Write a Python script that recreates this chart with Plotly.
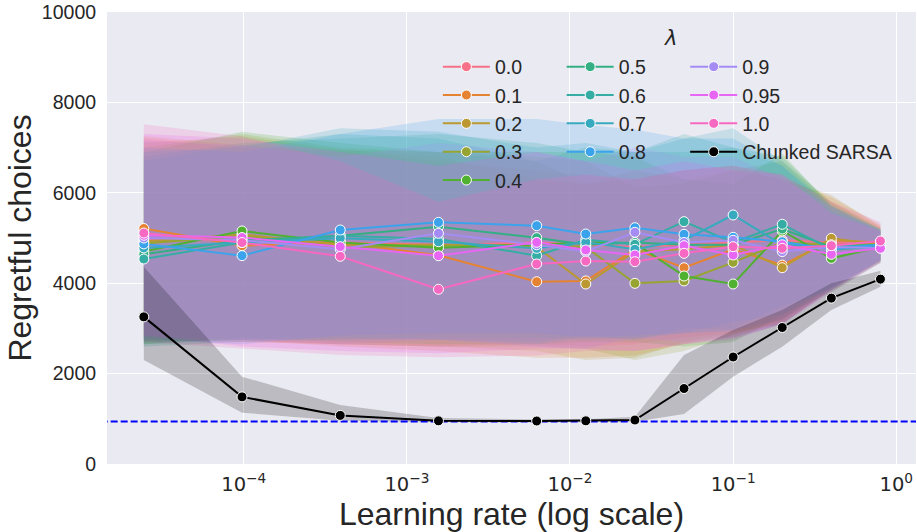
import math
import plotly.graph_objects as go

# ---------------- data ----------------
learning_rates = [0.0000244140625, 0.00009765625, 0.000390625, 0.0015625, 0.00625,
                  0.0125, 0.025, 0.05, 0.1, 0.2, 0.4, 0.8]
lambda_labels = ["0.0", "0.1", "0.2", "0.3", "0.4", "0.5", "0.6", "0.7", "0.8", "0.9", "0.95", "1.0"]

mean_l00 = [4950, 4950, 4900, 4850, 4900, 4850, 4800, 4850, 4900, 4950, 4900, 4850]
lo_l00 = [2750, 2700, 2650, 2600, 2650, 2600, 2650, 2800, 2900, 3200, 3900, 4500]
hi_l00 = [7200, 7000, 6900, 6700, 6500, 6400, 6300, 6500, 6600, 6400, 5800, 5250]

mean_l01 = [5210, 4830, 4900, 4620, 4033, 4050, 4750, 4343, 4750, 4400, 4950, 4900]
lo_l01 = [2800, 2750, 2600, 2500, 2350, 2350, 2400, 2650, 2850, 3150, 3850, 4480]
hi_l01 = [7250, 7050, 6950, 6800, 6300, 6200, 6500, 6300, 6500, 6300, 5900, 5300]

mean_l02 = [4920, 5080, 4850, 4850, 4800, 3982, 4700, 4750, 4850, 4343, 4993, 4850]
lo_l02 = [2750, 2700, 2650, 2600, 2500, 2300, 2350, 2700, 2900, 3100, 3900, 4450]
hi_l02 = [7100, 7250, 6950, 6900, 6700, 6200, 6300, 6500, 6600, 6300, 5950, 5250]

mean_l03 = [4880, 5050, 4800, 4830, 4850, 4800, 3997, 4050, 4462, 4900, 4850, 4850]
lo_l03 = [2700, 2750, 2650, 2600, 2600, 2550, 2300, 2500, 2850, 3200, 3950, 4500]
hi_l03 = [7000, 7300, 7000, 6900, 6800, 6700, 6100, 6200, 6500, 6700, 5800, 5200]

mean_l04 = [4700, 5155, 4900, 4786, 4850, 4900, 4890, 4159, 3982, 5155, 4550, 4800]
lo_l04 = [2650, 2800, 2700, 2650, 2650, 2700, 2700, 2600, 2700, 3300, 3800, 4450]
hi_l04 = [6900, 7350, 7100, 6900, 6900, 6900, 6800, 6300, 6200, 6870, 5700, 5150]

mean_l05 = [4640, 4950, 5050, 5250, 5007, 4850, 4900, 4850, 4850, 5199, 4800, 4850]
lo_l05 = [2650, 2750, 2750, 2800, 2800, 2750, 2800, 2900, 2950, 3400, 3900, 4500]
hi_l05 = [6800, 7100, 7200, 7300, 7100, 6900, 6900, 6900, 7000, 6800, 5750, 5200]

mean_l06 = [4535, 4900, 5050, 4980, 4608, 4960, 4860, 5361, 4900, 5303, 4750, 4800]
lo_l06 = [2600, 2700, 2750, 2750, 2650, 2800, 2750, 3000, 3000, 3500, 3850, 4500]
hi_l06 = [6700, 7050, 7300, 7200, 6700, 7000, 6900, 7300, 7000, 6600, 5700, 5150]

mean_l07 = [4780, 4900, 4993, 4918, 4772, 4904, 4750, 4950, 5509, 4850, 4800, 4850]
lo_l07 = [2700, 2750, 2800, 2750, 2700, 2850, 2750, 2900, 3150, 3300, 3900, 4500]
hi_l07 = [6900, 7000, 7430, 7350, 7000, 7100, 6900, 7200, 7430, 6700, 5700, 5200]

mean_l08 = [4870, 4610, 5177, 5347, 5272, 5088, 5228, 5082, 5015, 4918, 4750, 4850]
lo_l08 = [2750, 2650, 2850, 2900, 2900, 2800, 2850, 2900, 2950, 3200, 3850, 4500]
hi_l08 = [7000, 6900, 7300, 7630, 7630, 7500, 7400, 7200, 7200, 6600, 5600, 5200]

mean_l09 = [5000, 4950, 4750, 5104, 4850, 4700, 5126, 4900, 4950, 4700, 4800, 4780]
lo_l09 = [2800, 2750, 2650, 2750, 2600, 2550, 2800, 2700, 2800, 3100, 3850, 4450]
hi_l09 = [7150, 7050, 6800, 7100, 6900, 6700, 7000, 6800, 6800, 6300, 5700, 5150]

mean_l095 = [5060, 5010, 4808, 4608, 4904, 4735, 4624, 4830, 4624, 4850, 4639, 4772]
lo_l095 = [2850, 2600, 2500, 2450, 2550, 2550, 2500, 2650, 2750, 3100, 3800, 4450]
hi_l095 = [7300, 7200, 6900, 6600, 6900, 6700, 6500, 6700, 6500, 6400, 5550, 5150]

mean_l10 = [5110, 4900, 4595, 3865, 4425, 4491, 4476, 4661, 4808, 4772, 4830, 4934]
lo_l10 = [2700, 2550, 2412, 2360, 2400, 2500, 2500, 2650, 2800, 3100, 3850, 4500]
hi_l10 = [7515, 7250, 6700, 5800, 6300, 6400, 6300, 6500, 6600, 6400, 5800, 5350]

sarsa_label = "Chunked SARSA"
sarsa_mean = [3255, 1485, 1075, 955, 951, 955, 973, 1670, 2367, 3020, 3670, 4090]
sarsa_lo = [2300, 1135, 958, 930, 925, 930, 936, 1106, 1932, 2595, 3407, 3923]
sarsa_hi = [4366, 1932, 1305, 1017, 985, 990, 1047, 2411, 2965, 3407, 3998, 4277]

optimal_regret = 940
y_ticks = [0, 2000, 4000, 6000, 8000, 10000]
x_ticks = [0.0001, 0.001, 0.01, 0.1, 1]
x_tick_labels = ["10<sup>−4</sup>", "10<sup>−3</sup>", "10<sup>−2</sup>", "10<sup>−1</sup>", "10<sup>0</sup>"]

series_means = [mean_l00, mean_l01, mean_l02, mean_l03, mean_l04, mean_l05,
                mean_l06, mean_l07, mean_l08, mean_l09, mean_l095, mean_l10]
series_lo = [lo_l00, lo_l01, lo_l02, lo_l03, lo_l04, lo_l05,
             lo_l06, lo_l07, lo_l08, lo_l09, lo_l095, lo_l10]
series_hi = [hi_l00, hi_l01, hi_l02, hi_l03, hi_l04, hi_l05,
             hi_l06, hi_l07, hi_l08, hi_l09, hi_l095, hi_l10]

# ---------------- husl palette (seaborn) ----------------
M = [[3.2406, -1.5372, -0.4986], [-0.9689, 1.8758, 0.0415], [0.0557, -0.2040, 1.0570]]
REF_Y, REF_U, REF_V, LAB_K, LAB_E = 1.0, 0.19784, 0.46834, 903.3, 0.008856


def _max_chroma(L, H):
    hrad = math.radians(H)
    sinH, cosH = math.sin(hrad), math.cos(hrad)
    sub1 = (L + 16) ** 3 / 1560896.0
    sub2 = sub1 if sub1 > LAB_E else L / LAB_K
    result = float("inf")
    for m1, m2, m3 in M:
        top = (0.99915 * m1 + 1.05122 * m2 + 1.14460 * m3) * sub2
        rbottom = 0.86330 * m3 - 0.17266 * m2
        lbottom = 0.12949 * m3 - 0.38848 * m1
        bottom = (rbottom * sinH + lbottom * cosH) * sub2
        for t in (0.0, 1.0):
            C = L * (top - 1.05122 * t) / (bottom + 0.17266 * sinH * t)
            if 0 < C < result:
                result = C
    return result


def _husl_to_rgb(H, S, L):
    C = _max_chroma(L, H) / 100.0 * S
    hrad = math.radians(H)
    U, V = math.cos(hrad) * C, math.sin(hrad) * C
    varY = REF_Y * ((L + 16) / 116.0) ** 3 if L > 8 else REF_Y * L / LAB_K
    varU = U / (13 * L) + REF_U
    varV = V / (13 * L) + REF_V
    Y = varY * REF_Y
    X = -(9 * Y * varU) / ((varU - 4) * varV - varU * varV)
    Z = (9 * Y - 15 * varV * Y - varV * X) / (3 * varV)
    out = []
    for row in M:
        c = row[0] * X + row[1] * Y + row[2] * Z
        c = 12.92 * c if c <= 0.0031308 else 1.055 * c ** (1 / 2.4) - 0.055
        out.append(int(round(min(1, max(0, c)) * 255)))
    return out


def husl_palette(n, h=0.01, s=0.9, l=0.65):
    return [_husl_to_rgb(((i / n + h) % 1) * 359, s * 99, l * 99) for i in range(n)]


palette = husl_palette(len(lambda_labels))

FONT = "Liberation Sans, Arial, sans-serif"
TXT = "#262626"

fig = go.Figure()

# confidence bands (drawn below all lines)
for i, lab in enumerate(lambda_labels):
    r, g, b = palette[i]
    fig.add_trace(go.Scatter(x=learning_rates, y=series_lo[i], mode="lines",
                             line=dict(width=0, color=f"rgb({r},{g},{b})"),
                             showlegend=False, hoverinfo="skip"))
    fig.add_trace(go.Scatter(x=learning_rates, y=series_hi[i], mode="lines",
                             line=dict(width=0, color=f"rgb({r},{g},{b})"),
                             fill="tonexty", fillcolor=f"rgba({r},{g},{b},0.2)",
                             showlegend=False, hoverinfo="skip"))

fig.add_trace(go.Scatter(x=learning_rates, y=sarsa_lo, mode="lines",
                         line=dict(width=0, color="black"), showlegend=False, hoverinfo="skip"))
fig.add_trace(go.Scatter(x=learning_rates, y=sarsa_hi, mode="lines",
                         line=dict(width=0, color="black"), fill="tonexty",
                         fillcolor="rgba(0,0,0,0.2)", showlegend=False, hoverinfo="skip"))

legend_of = ["legend"] * 5 + ["legend2"] * 4 + ["legend3"] * 3

for i, lab in enumerate(lambda_labels):
    r, g, b = palette[i]
    col = f"rgb({r},{g},{b})"
    fig.add_trace(go.Scatter(x=learning_rates, y=series_means[i], mode="lines+markers",
                             name=lab, legend=legend_of[i],
                             line=dict(color=col, width=2),
                             marker=dict(size=10, color=col, line=dict(color="white", width=1))))

# optimal reference line
fig.add_trace(go.Scatter(x=[learning_rates[0] / 10, learning_rates[-1] * 10],
                         y=[optimal_regret, optimal_regret], mode="lines",
                         line=dict(color="#0000ff", width=2, dash="7px,3px"),
                         showlegend=False, hoverinfo="skip"))

fig.add_trace(go.Scatter(x=learning_rates, y=sarsa_mean, mode="lines+markers",
                         name=sarsa_label, legend="legend3",
                         line=dict(color="black", width=2),
                         marker=dict(size=10, color="black", line=dict(color="white", width=1))))

leg_common = dict(xanchor="left", yanchor="top", bgcolor="rgba(0,0,0,0)",
                  font=dict(family=FONT, size=19.5, color=TXT), tracegroupgap=0,
                  traceorder="normal", itemwidth=47)

fig.update_layout(
    width=917, height=532,
    margin=dict(l=107, r=1, t=12, b=68),
    paper_bgcolor="white", plot_bgcolor="#EAEAF2",
    font=dict(family=FONT, color=TXT),
    legend=dict(x=0.409, y=0.9215, **leg_common),
    legend2=dict(x=0.562, y=0.9215, **leg_common),
    legend3=dict(x=0.7147, y=0.9215, **leg_common),
    annotations=[dict(text="<i>λ</i>", x=0.696, y=0.9425, xref="paper", yref="paper",
                      showarrow=False, font=dict(family="DejaVu Sans", size=21, color=TXT),
                      xanchor="center", yanchor="middle")],
)

fig.update_xaxes(type="log", range=[-4.838, 0.121], tickvals=x_ticks, ticktext=x_tick_labels,
                 showgrid=True, gridcolor="white", gridwidth=1.3, zeroline=False,
                 showline=False, ticks="outside", ticklen=3, tickcolor="rgba(0,0,0,0)",
                 tickfont=dict(family="DejaVu Sans", size=19.5, color=TXT),
                 title=dict(text="Learning rate (log scale)", standoff=2,
                            font=dict(family=FONT, size=32, color=TXT)))
fig.update_yaxes(range=[0, 10000], tickvals=y_ticks, tickformat="d",
                 showgrid=True, gridcolor="white", gridwidth=1.3, zeroline=False,
                 showline=False, ticks="outside", ticklen=6, tickcolor="rgba(0,0,0,0)",
                 tickfont=dict(family=FONT, size=19.5, color=TXT),
                 title=dict(text="Regretful choices", standoff=0,
                            font=dict(family=FONT, size=32, color=TXT)))

fig.write_html("out.html", config={"displayModeBar": False},
               post_script="document.body.style.margin='0';")
